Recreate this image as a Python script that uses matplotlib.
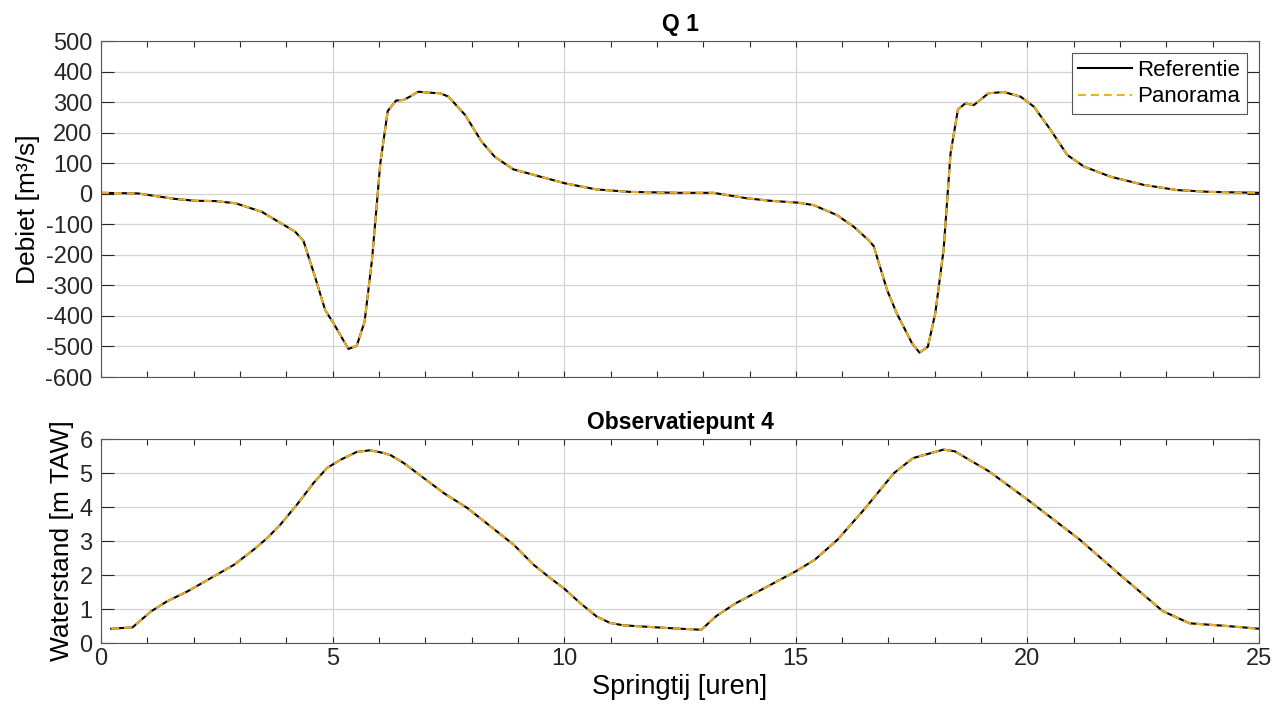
import matplotlib.pyplot as plt
from matplotlib.ticker import MultipleLocator

plt.rcParams['font.family'] = ['Liberation Sans', 'DejaVu Sans']
plt.rcParams['axes.unicode_minus'] = False

# Q 1 - debiet [m3/s]
t_q = [0, 0.8, 1.6, 2.03, 2.46, 2.9, 3.47, 4.19, 4.37, 4.62, 4.84, 5.02, 5.34, 5.52,
       5.69, 5.85, 6.03, 6.19, 6.37, 6.53, 6.67, 6.85, 7.07, 7.32, 7.5, 7.86, 8.22,
       8.5, 8.9, 9.63, 10.02, 10.7, 11.43, 12.5, 13.22, 13.95, 14.45, 15.03, 15.38,
       15.89, 16.25, 16.57, 16.68, 16.97, 17.18, 17.51, 17.67, 17.85, 18.01, 18.19,
       18.34, 18.5, 18.66, 18.84, 19.16, 19.49, 19.85, 20.14, 20.5, 20.86, 21.22,
       21.79, 22.51, 23.23, 23.95, 25]
q_ref = [3, 1, -17, -23, -24, -31, -59, -124, -154, -272, -381, -424, -508, -498,
         -419, -217, 100, 271, 305, 307, 318, 334, 331, 329, 318, 258, 170,
         121, 80, 50, 34, 14, 6, 3, 3, -15, -23, -29, -37,
         -70, -108, -152, -171, -315, -392, -490, -520, -501, -392, -184,
         132, 276, 296, 290, 329, 333, 318, 285, 209, 127, 89,
         56, 29, 12, 6, 3]
q_pan = list(q_ref)

# Observatiepunt 4 - waterstand [m TAW]
t_h = [0.22, 0.68, 1.08, 1.43, 1.87, 2.37, 2.87, 3.3, 3.59, 3.87, 4.23, 4.59, 4.88,
       5.17, 5.52, 5.81, 6.1, 6.26, 6.54, 6.97, 7.4, 7.91, 8.41, 8.91, 9.34, 9.7,
       10.0, 10.34, 10.7, 10.99, 11.28, 12.0, 12.5, 12.96,
       13.28, 13.69, 14.26, 15.0, 15.41, 15.9, 16.47, 17.12, 17.53, 18.19, 18.43,
       19.17, 20.0, 21.13, 22.03, 22.92, 23.5, 24.31, 25.0]
h_ref = [0.42, 0.46, 0.93, 1.23, 1.52, 1.91, 2.3, 2.75, 3.09, 3.48, 4.07, 4.71, 5.15,
         5.39, 5.62, 5.67, 5.59, 5.52, 5.29, 4.85, 4.41, 3.97, 3.43, 2.89, 2.3, 1.91,
         1.6, 1.18, 0.78, 0.59, 0.52, 0.46, 0.42, 0.39,
         0.79, 1.16, 1.57, 2.11, 2.45, 3.04, 3.92, 5.0, 5.44, 5.69, 5.64,
         5.05, 4.22, 3.04, 1.97, 0.94, 0.58, 0.5, 0.42]
h_pan = list(h_ref)

fig = plt.figure(figsize=(12.85, 7.22), dpi=100)
ax1 = fig.add_axes([0.0786, 0.4778, 0.9012, 0.4654])
ax2 = fig.add_axes([0.0786, 0.1094, 0.9012, 0.2825])

orange = '#EDB120'
dash = (0, (3.8, 2.4))

for ax in (ax1, ax2):
    ax.set_xlim(0, 25)
    ax.xaxis.set_major_locator(MultipleLocator(5))
    ax.xaxis.set_minor_locator(MultipleLocator(1))
    ax.grid(True, which='major', color='#d4d4d4', linewidth=0.9)
    ax.set_axisbelow(True)
    ax.tick_params(which='both', direction='in', top=True, right=True,
                   width=0.8, colors='#262626', labelsize=17)
    ax.tick_params(axis='x', which='both', length=4)
    ax.tick_params(axis='y', which='both', length=9, pad=6)
    for s in ax.spines.values():
        s.set_color('#555555')
        s.set_linewidth(0.8)

ax1.plot(t_q, q_ref, color='black', linewidth=1.5, label='Referentie')
ax1.plot(t_q, q_pan, color=orange, linewidth=1.5, linestyle=dash, label='Panorama')
ax1.set_ylim(-600, 500)
ax1.yaxis.set_major_locator(MultipleLocator(100))
ax1.tick_params(axis='x', labelbottom=False)
ax1.set_ylabel('Debiet [m³/s]', fontsize=19, labelpad=4)
ax1.set_title('Q 1', fontsize=16.5, fontweight='bold', pad=7)
leg = ax1.legend(loc='upper right', fontsize=16, handlelength=2.4,
                 fancybox=False, framealpha=1, edgecolor='#555555',
                 borderaxespad=0.55, borderpad=0.3, labelspacing=0.25, handletextpad=0.25)
leg.get_frame().set_linewidth(0.8)

ax2.plot(t_h, h_ref, color='black', linewidth=1.5)
ax2.plot(t_h, h_pan, color=orange, linewidth=1.5, linestyle=dash)
ax2.set_ylim(0, 6)
ax2.yaxis.set_major_locator(MultipleLocator(1))
ax2.set_ylabel('Waterstand [m TAW]', fontsize=19, labelpad=4)
ax2.set_xlabel('Springtij [uren]', fontsize=19.5, labelpad=3)
ax2.set_title('Observatiepunt 4', fontsize=16.5, fontweight='bold', pad=7)

fig.savefig('out.png', dpi=100)
